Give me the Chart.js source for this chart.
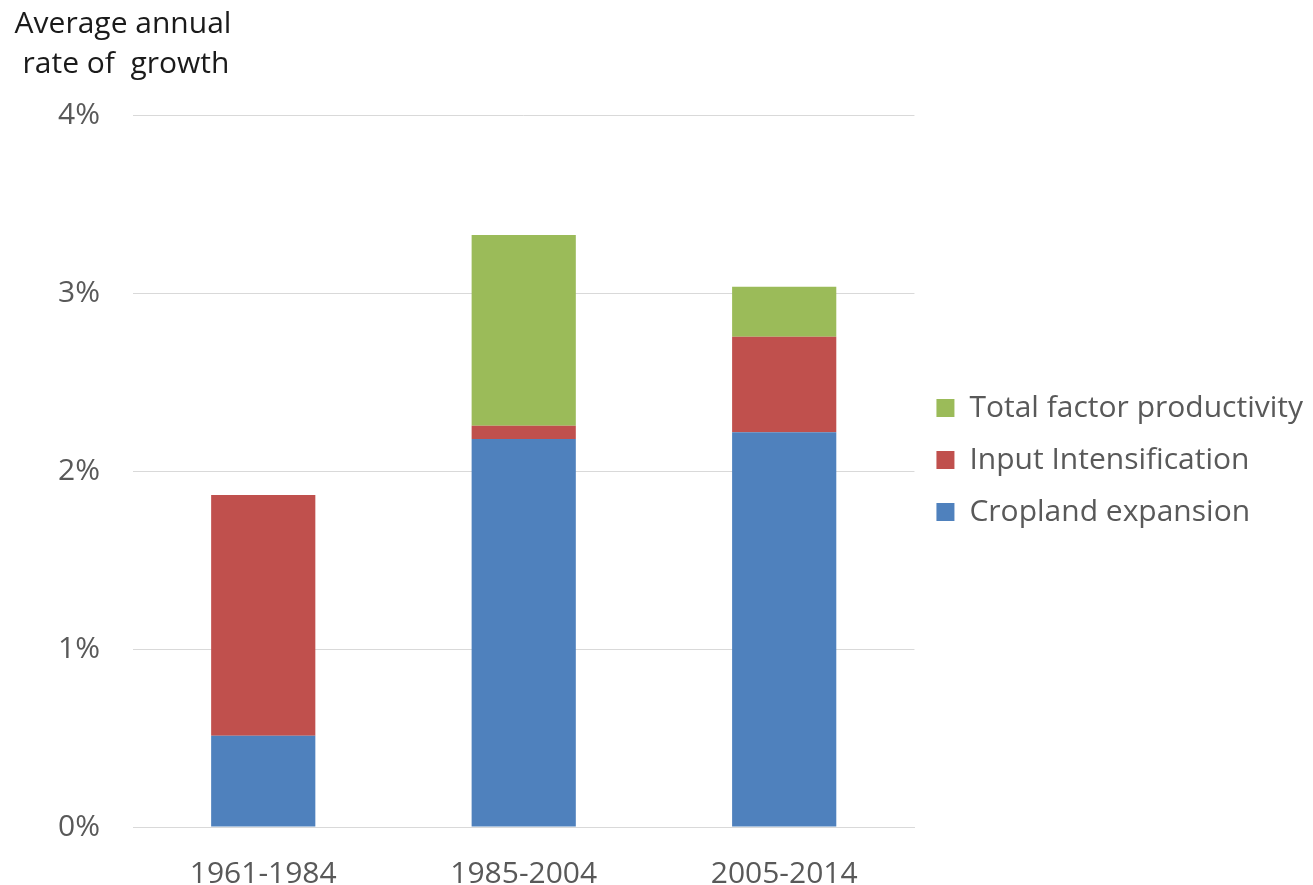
<!DOCTYPE html>
<html>
<head>
<meta charset="utf-8">
<script src="https://cdn.jsdelivr.net/npm/chart.js@4.4.1/dist/chart.umd.min.js"></script>
<style>
html,body{margin:0;padding:0;background:#fff;}
#wrap{width:1313px;height:885px;position:relative;}
</style>
</head>
<body>
<div id="wrap"><canvas id="c" width="1313" height="885"></canvas></div>
<script>
const categories = ['1961-1984', '1985-2004', '2005-2014'];
const croplandExpansion = [0.513, 2.18, 2.217];
const inputIntensification = [1.352, 0.074, 0.537];
const totalFactorProductivity = [0, 1.072, 0.281];
const yTicks = [0, 1, 2, 3, 4];
const titleLines = ['Average annual', 'rate of  growth'];

const FONT = "'Open Sans', sans-serif";

const titlePlugin = {
  id: 'leftTitle',
  afterDraw(chart) {
    const ctx = chart.ctx;
    ctx.save();
    ctx.fillStyle = '#1a1a1a';
    ctx.font = "30px " + FONT;
    ctx.textAlign = 'center';
    ctx.textBaseline = 'alphabetic';
    ctx.fillText(titleLines[0], 123, 33);
    ctx.fillText(titleLines[1], 126, 73);
    ctx.restore();
  }
};

new Chart(document.getElementById('c'), {
  type: 'bar',
  data: {
    labels: categories,
    datasets: [
      { label: 'Cropland expansion', data: croplandExpansion, backgroundColor: '#4f81bd' },
      { label: 'Input Intensification', data: inputIntensification, backgroundColor: '#c0504d' },
      { label: 'Total factor productivity', data: totalFactorProductivity, backgroundColor: '#9bbb59' }
    ]
  },
  options: {
    responsive: false,
    animation: false,
    devicePixelRatio: 1,
    layout: { padding: { top: 35, left: 0, right: 0, bottom: 0 } },
    datasets: { bar: { barPercentage: 0.4, categoryPercentage: 1.0 } },
    scales: {
      x: {
        stacked: true,
        afterFit(scale) { scale.height = 58; },
        grid: { display: false, drawTicks: false },
        border: { display: true, color: '#d9d9d9', width: 1 },
        ticks: { color: '#595959', font: { family: FONT, size: 30 }, padding: 29 }
      },
      y: {
        stacked: true,
        min: 0, max: 4,
        afterFit(scale) { scale.width = 133; scale.paddingTop = 115; },
        afterBuildTicks(scale) { scale.ticks = yTicks.map(v => ({ value: v })); },
        grid: { color: '#d9d9d9', lineWidth: 1, drawTicks: false },
        border: { display: false },
        ticks: { color: '#595959', font: { family: FONT, size: 30 }, padding: 33, callback: v => v + '%' }
      }
    },
    plugins: {
      legend: {
        position: 'right',
        reverse: true,
        maxWidth: 600,
        labels: {
          boxWidth: 18, boxHeight: 18, color: '#595959',
          font: { family: FONT, size: 30 }, padding: 22
        }
      },
      tooltip: { enabled: false }
    }
  },
  plugins: [titlePlugin]
});
</script>
</body>
</html>
